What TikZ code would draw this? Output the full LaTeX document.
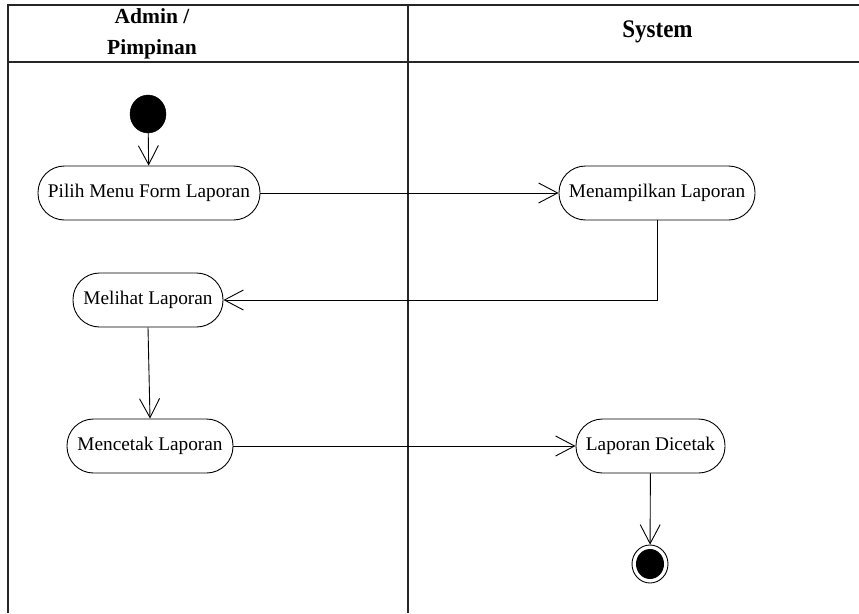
\documentclass[tikz,border=0pt]{standalone}
\usepackage{fontspec}
\setmainfont{Liberation Serif}
\usetikzlibrary{arrows.meta,positioning,shapes.geometric}
\begin{document}
\begin{tikzpicture}[x=1pt,y=-1pt,
  frame/.style={line width=1.6pt,black!85},
  act/.style={draw,line width=0.9pt,rounded corners=26.5pt,minimum height=54pt,inner sep=0pt,font=\fontsize{19.3}{22}\selectfont},
  flow/.style={line width=0.9pt,-{Straight Barb[length=19pt,width=20pt,line width=0.9pt]}},
  hdr/.style={font=\fontsize{21.5}{31}\selectfont\bfseries,align=center,inner sep=0pt}]
\useasboundingbox (0,0) rectangle (859,613);
% swimlane frame
\draw[frame] (8,613) -- (8,5) -- (859,5);
\draw[frame] (8,62) -- (859,62);
\draw[frame] (408,5) -- (408,613);
\node[hdr] (h1) at (152,34) {Admin /\\Pimpinan};
\node[hdr,font=\fontsize{23}{28}\selectfont\bfseries,yscale=1.1] (h2) at (657.5,32) {System};
% nodes
\node[draw,fill=black,ellipse,minimum width=36pt,minimum height=38pt,inner sep=0pt] (start) at (148,114) {};
\node[act,minimum width=222pt] (pilih) at (149,193) {Pilih Menu Form Laporan};
\node[act,minimum width=196pt] (tampil) at (657,193) {Menampilkan Laporan};
\node[act,minimum width=150pt] (lihat) at (148,300) {Melihat Laporan};
\node[act,minimum width=166pt] (cetak) at (150,446) {Mencetak Laporan};
\node[act,minimum width=149pt] (dicetak) at (650.5,446) {Laporan Dicetak};
\node[draw,line width=0.9pt,ellipse,minimum width=36pt,minimum height=38pt,inner sep=0pt] (end) at (650,564) {};
\node[fill=black,ellipse,minimum width=28pt,minimum height=30pt,inner sep=0pt] (endin) at (650,564) {};
% flows
\draw[flow] (start) -- (pilih);
\draw[flow] (pilih) -- (tampil);
\draw[flow] (tampil.south) |- (lihat.east);
\draw[flow] (lihat.south) -- (cetak.north);
\draw[flow] (cetak) -- (dicetak);
\draw[flow] (dicetak) -- (end);
\end{tikzpicture}
\end{document}
